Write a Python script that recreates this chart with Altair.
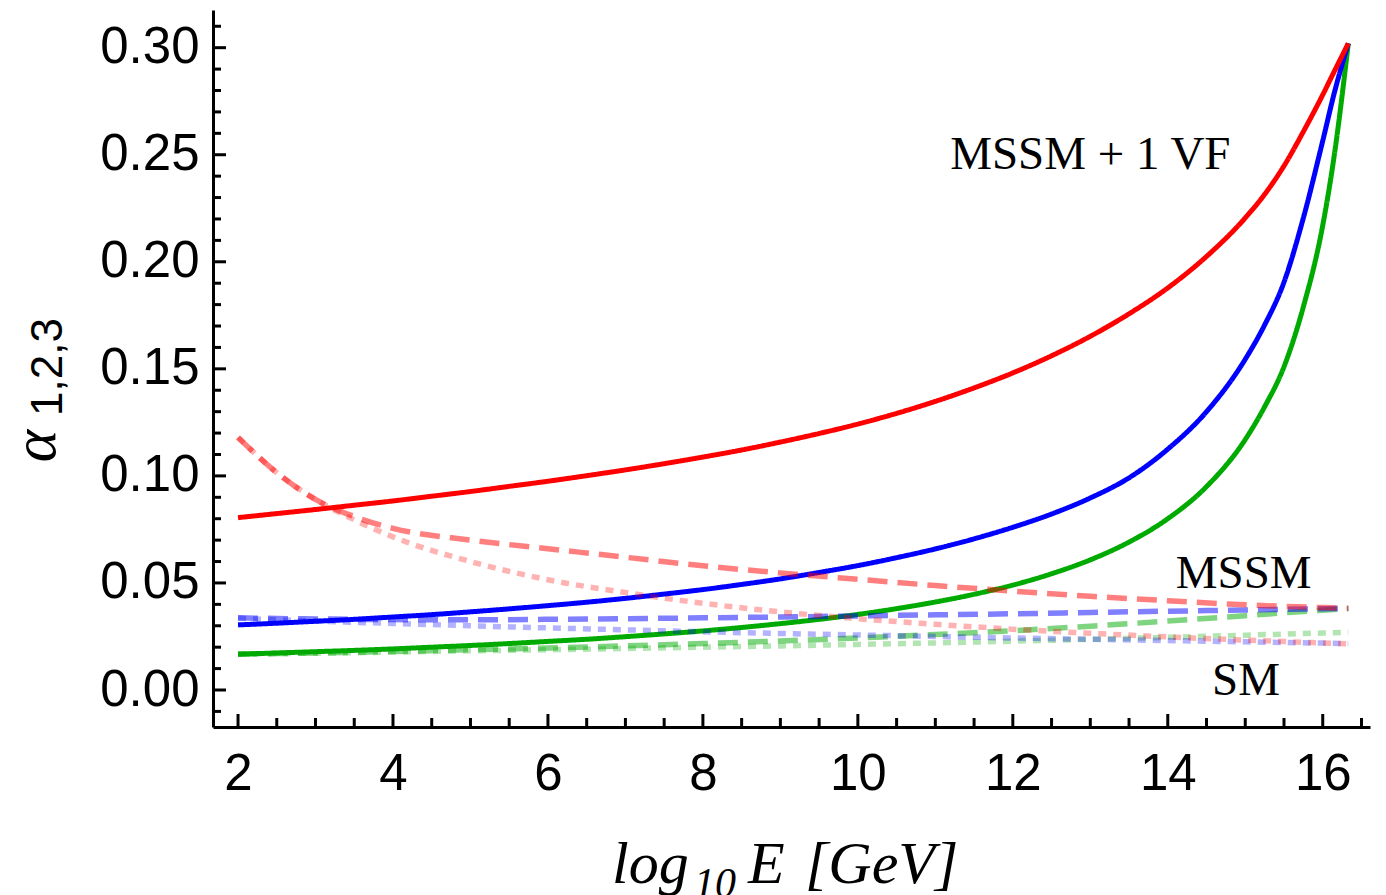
import altair as alt
import pandas as pd

# ---------------- data ----------------
# MSSM + 1 VF (solid)
X_SOLID = [2, 2.5, 3, 3.5, 4, 4.5, 5, 5.5, 6, 6.5, 7, 7.5, 8, 8.5, 9, 9.5, 10, 10.5, 11, 11.5,
           12, 12.5, 13, 13.5, 14, 14.5, 15, 15.25, 15.5, 15.75, 16, 16.15, 16.33]
A3_VF = [0.0805, 0.0824, 0.0843, 0.0863, 0.0883, 0.0905, 0.0927, 0.0951, 0.0975, 0.1001, 0.1028,
         0.1057, 0.1088, 0.1121, 0.1158, 0.1198, 0.1242, 0.1292, 0.1348, 0.1411, 0.1481, 0.1561,
         0.1652, 0.1757, 0.1878, 0.2025, 0.2205, 0.2315, 0.2448, 0.2608, 0.2780, 0.2890, 0.302]
A2_VF = [0.0304, 0.0312, 0.0321, 0.0330, 0.0341, 0.0352, 0.0365, 0.0379, 0.0394, 0.0410, 0.0428,
         0.0448, 0.0469, 0.0493, 0.0519, 0.0549, 0.0581, 0.0618, 0.0659, 0.0706, 0.0760, 0.0822,
         0.0897, 0.0991, 0.1125, 0.1300, 0.1545, 0.1705, 0.1905, 0.2205, 0.2565, 0.2790, 0.302]
A1_VF = [0.0167, 0.0173, 0.0179, 0.0185, 0.0192, 0.0200, 0.0208, 0.0217, 0.0227, 0.0237, 0.0249,
         0.0262, 0.0276, 0.0292, 0.0310, 0.0330, 0.0353, 0.0380, 0.0411, 0.0447, 0.0490, 0.0543,
         0.0608, 0.0691, 0.0800, 0.0950, 0.1170, 0.1323, 0.1510, 0.1790, 0.2170, 0.2500, 0.302]

# MSSM (dashed) and SM (dotted)
X_RUN = [2, 2.5, 3, 3.5, 4, 5, 6, 7, 8, 9, 10, 11, 12, 13, 14, 15, 16, 16.33]
A3_MSSM = [0.118, 0.1015, 0.089, 0.081, 0.0755, 0.070, 0.066, 0.062, 0.058, 0.0547, 0.0517,
           0.0488, 0.0462, 0.0438, 0.0417, 0.0398, 0.0385, 0.0382]
A3_SM = [0.118, 0.1015, 0.089, 0.0795, 0.0715, 0.060, 0.0515, 0.0455, 0.0405, 0.0365, 0.0333,
         0.0307, 0.0284, 0.0265, 0.0248, 0.0233, 0.0220, 0.0216]
A2_MSSM = [0.0337, 0.0334, 0.0332, 0.0330, 0.0329, 0.0328, 0.0330, 0.0333, 0.0337, 0.0341, 0.0346,
           0.0351, 0.0356, 0.0362, 0.0368, 0.0374, 0.0380, 0.0382]
A2_SM = [0.0335, 0.0328, 0.0322, 0.0316, 0.0311, 0.0300, 0.0290, 0.0281, 0.0272, 0.0264, 0.0257,
         0.0250, 0.0243, 0.0237, 0.0231, 0.0225, 0.0219, 0.0217]
A1_MSSM = [0.0168, 0.0170, 0.0173, 0.0176, 0.0180, 0.0188, 0.0196, 0.0206, 0.0217, 0.0229, 0.0243,
           0.0259, 0.0277, 0.0298, 0.0322, 0.0347, 0.0373, 0.0380]
A1_SM = [0.0168, 0.0170, 0.0172, 0.0174, 0.0177, 0.0183, 0.0188, 0.0194, 0.0200, 0.0206, 0.0213,
         0.0220, 0.0228, 0.0237, 0.0246, 0.0256, 0.0266, 0.0269]

# axis ticks
X_LABELS = [2, 4, 6, 8, 10, 12, 14, 16]
X_MINOR = [2.5, 3, 3.5, 4.5, 5, 5.5, 6.5, 7, 7.5, 8.5, 9, 9.5, 10.5, 11, 11.5, 12.5, 13, 13.5,
           14.5, 15, 15.5, 16.5]
Y_LABELS = [0.0, 0.05, 0.10, 0.15, 0.20, 0.25, 0.30]
Y_MINOR = [-0.01, 0.01, 0.02, 0.03, 0.04, 0.06, 0.07, 0.08, 0.09, 0.11, 0.12, 0.13, 0.14,
           0.16, 0.17, 0.18, 0.19, 0.21, 0.22, 0.23, 0.24, 0.26, 0.27, 0.28, 0.29, 0.31]

# annotations
LABEL_TEXT = ["MSSM + 1 VF", "MSSM", "SM"]
LABEL_X = [13.0, 14.98, 15.01]
LABEL_Y = [0.2434, 0.0477, -0.0023]

COUPLINGS = ["a1", "a2", "a3"]
COLORS = ["#00aa00", "#0000ff", "#ff0000"]

# ---------------- tables ----------------
def long_table(xs, series):
    rows = []
    for name, ys in series.items():
        for x, y in zip(xs, ys):
            rows.append({"x": x, "y": y, "c": name})
    return pd.DataFrame(rows)

solid_df = long_table(X_SOLID, {"a1": A1_VF, "a2": A2_VF, "a3": A3_VF})
dashed_df = long_table(X_RUN, {"a1": A1_MSSM, "a2": A2_MSSM, "a3": A3_MSSM})
dotted_df = long_table(X_RUN, {"a1": A1_SM, "a2": A2_SM, "a3": A3_SM})

XDOM = [1.677, 16.61]
YDOM = [-0.01728, 0.3176]

xs = alt.Scale(domain=XDOM, nice=False, zero=False)
ys = alt.Scale(domain=YDOM, nice=False, zero=False)
cs = alt.Scale(domain=COUPLINGS, range=COLORS)

x_axis = alt.Axis(values=X_LABELS, format="d", ticks=False, grid=False, domainWidth=3,
                  domainColor="black", labelFont="Liberation Sans", labelFontSize=51,
                  labelColor="black", labelPadding=22, labelFlush=False, title=None)
y_axis = alt.Axis(values=Y_LABELS, format=".2f", ticks=False, grid=False, domainWidth=3,
                  domainColor="black", labelFont="Liberation Sans", labelFontSize=51,
                  labelColor="black", labelPadding=14, labelFlush=False, title=None)

def lines(df, dash, opacity, width, interp):
    return alt.Chart(df).mark_line(strokeWidth=width, strokeDash=dash, opacity=opacity,
                                   interpolate=interp, clip=True).encode(
        x=alt.X("x:Q", scale=xs, axis=x_axis),
        y=alt.Y("y:Q", scale=ys, axis=y_axis),
        color=alt.Color("c:N", scale=cs, legend=None),
    )

solid = lines(solid_df, [1, 0], 1.0, 5, "monotone")
dashed = lines(dashed_df, [20, 10], 0.5, 5.5, "monotone")
dotted = lines(dotted_df, [8, 7], 0.3, 5.5, "monotone")

ymaj = alt.Chart(pd.DataFrame({"v": Y_LABELS})).mark_rule(strokeWidth=3, color="black").encode(
    y=alt.Y("v:Q", scale=ys), x=alt.value(0), x2=alt.value(13))
ymin = alt.Chart(pd.DataFrame({"v": Y_MINOR})).mark_rule(strokeWidth=3, color="black").encode(
    y=alt.Y("v:Q", scale=ys), x=alt.value(0), x2=alt.value(8))
xmaj = alt.Chart(pd.DataFrame({"v": X_LABELS})).mark_rule(strokeWidth=3, color="black").encode(
    x=alt.X("v:Q", scale=xs), y=alt.value(717), y2=alt.value(704))
xmin = alt.Chart(pd.DataFrame({"v": X_MINOR})).mark_rule(strokeWidth=3, color="black").encode(
    x=alt.X("v:Q", scale=xs), y=alt.value(717), y2=alt.value(708))

labels = alt.Chart(pd.DataFrame({"t": LABEL_TEXT, "x": LABEL_X, "y": LABEL_Y})).mark_text(
    font="Liberation Serif", fontSize=47, color="black", align="center", baseline="alphabetic"
).encode(x=alt.X("x:Q", scale=xs), y=alt.Y("y:Q", scale=ys), text="t:N")

# axis titles built from pieces (main symbol + subscript)
def piece(txt, x, y, font, size, style="normal", angle=0, align="left"):
    return alt.Chart(pd.DataFrame({"t": [txt]})).mark_text(
        font=font, fontSize=size, fontStyle=style, color="black", align=align,
        baseline="alphabetic", angle=angle
    ).encode(text="t:N", x=alt.value(x), y=alt.value(y))

y_title_a = piece("α", -158, 436, "Liberation Serif", 62, "italic", 270, "center")
y_title_s = piece("1,2,3", -151, 357, "Liberation Sans", 44, "normal", 270, "center")
x_title_1 = piece("log", 399, 873, "Liberation Serif", 60, "italic")
x_title_2 = piece("10", 481, 887, "Liberation Serif", 42, "italic")
x_title_3 = piece("E", 535, 873, "Liberation Serif", 60, "italic")
x_title_4 = piece("[GeV]", 592, 873, "Liberation Serif", 60, "italic")

chart = alt.layer(
    solid, dashed, dotted, ymaj, ymin, xmaj, xmin, labels,
    y_title_a, y_title_s, x_title_1, x_title_2, x_title_3, x_title_4
).properties(
    width=1157, height=717,
    padding={"left": 213, "top": 10, "right": 16, "bottom": 168},
    autosize=alt.AutoSizeParams(type="none"),
    background="white",
).configure_view(strokeWidth=0)

chart.save("out.html", embed_options={"renderer": "svg", "actions": False})
